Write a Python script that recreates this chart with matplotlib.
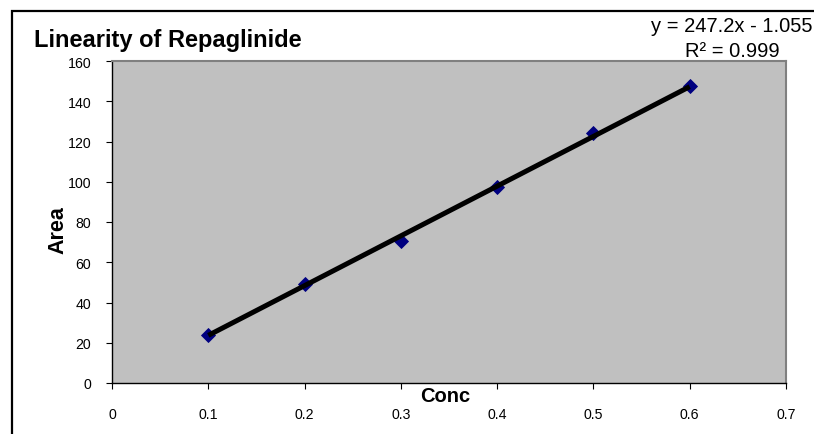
import matplotlib
matplotlib.use("Agg")
import matplotlib.pyplot as plt
from matplotlib.patches import Rectangle
import numpy as np

conc = [0.1, 0.2, 0.3, 0.4, 0.5, 0.6]
area = [24.0, 49.0, 70.5, 97.3, 124.0, 147.5]
slope = 247.2
intercept = -1.055
r2 = 0.999
x_ticks = [0, 0.1, 0.2, 0.3, 0.4, 0.5, 0.6, 0.7]
y_ticks = [0, 20, 40, 60, 80, 100, 120, 140, 160]

plt.rcParams['font.family'] = ['Liberation Sans', 'DejaVu Sans']

W, H = 814, 435
fig = plt.figure(figsize=(W / 100, H / 100), dpi=100)
fig.patch.set_facecolor('white')

# outer chart border
fig.patches.append(Rectangle((12 / W, -0.05), 1.2, (H - 12) / H + 0.05,
                             transform=fig.transFigure, fill=False,
                             edgecolor='black', linewidth=1.6))

ax = fig.add_axes([112 / W, (H - 384) / H, (786 - 112) / W, (384 - 62) / H])
ax.set_facecolor('#C0C0C0')
ax.set_xlim(0, 0.7)
ax.set_ylim(0, 160)
ax.set_xticks(x_ticks)
ax.set_xticklabels(['0', '0.1', '0.2', '0.3', '0.4', '0.5', '0.6', '0.7'])
ax.set_yticks(y_ticks)
ax.tick_params(axis='both', direction='out', length=4, width=0.8, color='black',
               labelsize=10.2)
ax.tick_params(axis='x', pad=13.5)
ax.tick_params(axis='y', pad=11)
for s in ['top', 'right']:
    ax.spines[s].set_color('#808080')
    ax.spines[s].set_linewidth(1.5)
for s in ['bottom', 'left']:
    ax.spines[s].set_color('black')
    ax.spines[s].set_linewidth(1.0)

ax.plot(conc, area, linestyle='none', marker='D', markersize=7,
        markeredgewidth=0.6, color='#000080', zorder=2)
xs = np.array([conc[0], conc[-1]])
ax.plot(xs, slope * xs + intercept, color='black', linewidth=3.6, zorder=3,
        solid_capstyle='butt')

ax.set_xlabel('Conc', fontsize=14.5, fontweight='bold')
ax.xaxis.set_label_coords((445 - 112) / (786 - 112), -(397 - 384) / (384 - 62))
ax.xaxis.label.set_va('center')
ax.set_ylabel('Area', fontsize=15.5, fontweight='bold')
ax.yaxis.set_label_coords(-(112 - 58) / (786 - 112), (384 - 230) / (384 - 62))
ax.yaxis.label.set_va('center')

fig.text(34 / W, 1 - 40 / H, 'Linearity of Repaglinide', fontsize=17,
         fontweight='bold', va='center', ha='left')
fig.text(732 / W, 1 - 27 / H, 'y = 247.2x - 1.055', fontsize=14.5,
         va='center', ha='center')
fig.text(732 / W, 1 - 52 / H, 'R² = 0.999', fontsize=14.5,
         va='center', ha='center')

fig.savefig('out.png', dpi=100)
